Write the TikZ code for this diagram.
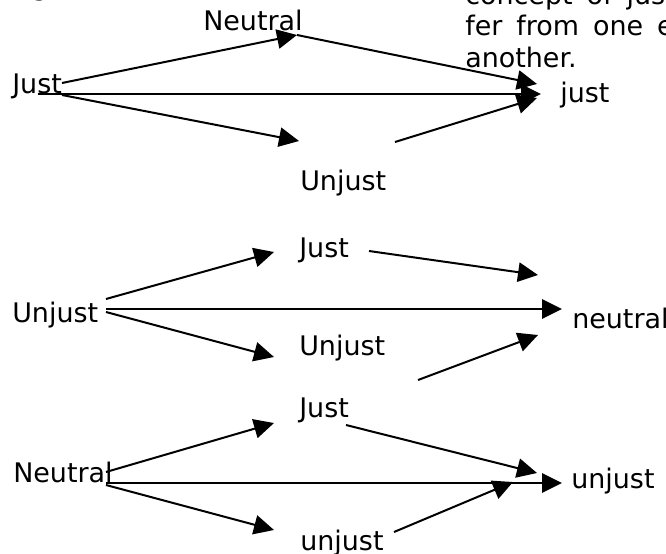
\documentclass[tikz,border=0pt]{standalone}
\usepackage{fontspec}
\setmainfont{DejaVu Sans}
\usetikzlibrary{arrows.meta}

\newcommand{\widesp}{\spaceskip=10.5pt\relax}

\begin{document}
\begin{tikzpicture}[x=0.75pt,y=-0.75pt,
        lbl/.style={anchor=base west, inner sep=0pt, font=\fontsize{20.2}{24}\selectfont},
        arr/.style={-{Triangle[length=15pt,width=14.5pt]}, line width=1.5pt}]
    \useasboundingbox (0,0) rectangle (666,553);
    \clip (0,0) rectangle (666,553);

    % text of the page round the figure
    \node[lbl] (figmark) at (31,-4) {g};
    \node[lbl] (note1) at (465,4) {\widesp concept of jus};
    \node[lbl] (note2) at (465,35) {\widesp fer from one e};
    \node[lbl] (note3) at (465,67) {another.};

    % just
    \node[lbl] (just1) at (12,93) {Just};
    \node[lbl] (neutral1) at (203,30) {Neutral};
    \node[lbl] (unjust1) at (300,190) {Unjust};
    \node[lbl] (justR) at (560,102) {just};
    \coordinate (j1a) at (62,83);
    \coordinate (j1b) at (38,94);
    \coordinate (j1c) at (62,95);
    \coordinate (n1) at (297,35);
    \coordinate (u1) at (299,141);
    \coordinate (u1s) at (395,142);
    \coordinate (r1a) at (537,84);
    \coordinate (r1b) at (541,94);
    \coordinate (r1c) at (537,98);
    \draw[arr] (j1a) -- (n1);
    \draw[arr] (n1) -- (r1a);
    \draw[arr] (j1b) -- (r1b);
    \draw[arr] (j1c) -- (u1);
    \draw[arr] (u1s) -- (r1c);

    % neutral
    \node[lbl] (unjust2) at (12,322) {Unjust};
    \node[lbl] (just2) at (299,257) {Just};
    \node[lbl] (unjust2m) at (299,355) {Unjust};
    \node[lbl] (neutralR) at (572,328) {neutral};
    \coordinate (u2a) at (106,299);
    \coordinate (u2b) at (106,309);
    \coordinate (u2c) at (106,312);
    \coordinate (j2) at (274,252);
    \coordinate (j2s) at (369,251);
    \coordinate (m2) at (274,357);
    \coordinate (m2s) at (418,380);
    \coordinate (r2a) at (538,275);
    \coordinate (r2b) at (562,309);
    \coordinate (r2c) at (538,335);
    \draw[arr] (u2a) -- (j2);
    \draw[arr] (j2s) -- (r2a);
    \draw[arr] (u2b) -- (r2b);
    \draw[arr] (u2c) -- (m2);
    \draw[arr] (m2s) -- (r2c);

    % unjust
    \node[lbl] (neutral3) at (13,482) {Neutral};
    \node[lbl] (just3) at (299,417) {Just};
    \node[lbl] (unjust3) at (300,550) {unjust};
    \node[lbl] (unjustR) at (571,488) {unjust};
    \coordinate (n3a) at (106,472);
    \coordinate (n3b) at (106,483);
    \coordinate (n3c) at (106,485);
    \coordinate (j3) at (274,423);
    \coordinate (j3s) at (346,425);
    \coordinate (m3) at (274,530);
    \coordinate (m3s) at (394,532);
    \coordinate (r3a) at (537,473);
    \coordinate (r3b) at (562,483);
    \coordinate (r3c) at (513,482);
    \draw[arr] (n3a) -- (j3);
    \draw[arr] (j3s) -- (r3a);
    \draw[arr] (n3b) -- (r3b);
    \draw[arr] (n3c) -- (m3);
    \draw[arr] (m3s) -- (r3c);
\end{tikzpicture}
\end{document}
